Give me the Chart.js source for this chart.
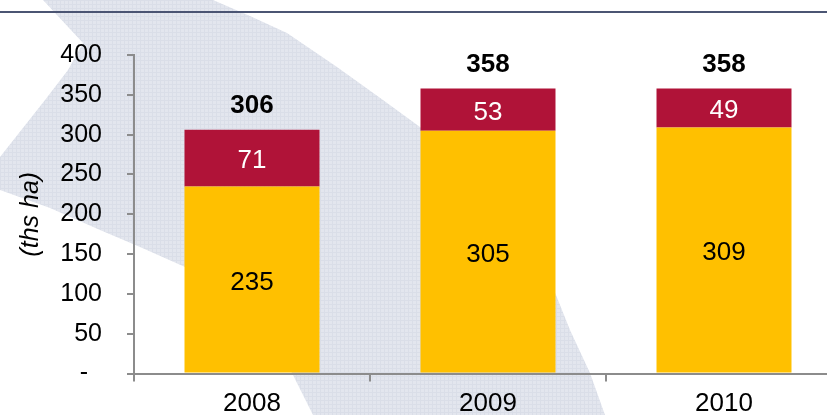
<!DOCTYPE html>
<html>
<head>
<meta charset="utf-8">
<script src="https://cdn.jsdelivr.net/npm/chart.js@4"></script>
<style>
  html, body { margin: 0; padding: 0; overflow: hidden; background: #ffffff; }
  #wrap { position: relative; width: 842px; height: 415px; }
</style>
</head>
<body>
<div id="wrap"><canvas id="chart"></canvas></div>
<script>
// Harvested area by year, thousand hectares
const years = ['2008', '2009', '2010'];
const baseArea = [235, 305, 309];
const topArea = [71, 53, 49];
const totals = [306, 358, 358];
const yMin = 0;
const yMax = 400;
const yStep = 50;

const FONT = '"Liberation Sans", Arial, Helvetica, sans-serif';
const AXIS_GREY = '#8c8c8c';

// light plaid texture for the background swoosh
function makeTexture() {
  const c = document.createElement('canvas');
  c.width = 4; c.height = 4;
  const g = c.getContext('2d');
  g.fillStyle = '#e3e6ee';
  g.fillRect(0, 0, 4, 4);
  g.fillStyle = '#dadee8';
  g.fillRect(0, 0, 4, 1);
  g.fillRect(0, 0, 1, 4);
  return c;
}

const backdrop = {
  id: 'backdrop',
  beforeDraw(chart) {
    const ctx = chart.ctx;
    ctx.save();
    ctx.fillStyle = ctx.createPattern(makeTexture(), 'repeat');
    const outline = [
      [43, 0], [213, 0], [250, 16], [287, 33], [337, 67], [383, 100], [420, 127],
      [460, 165], [495, 205], [527, 245], [552, 285], [570, 330], [590, 373], [605, 415],
      [313, 415], [292, 373], [278, 345], [258, 320], [225, 292], [185, 267],
      [140, 247], [100, 230], [50, 208], [0, 190], [0, 157], [45, 100], [68, 70], [83, 43]
    ];
    ctx.beginPath();
    outline.forEach(([x, y], i) => i ? ctx.lineTo(x, y) : ctx.moveTo(x, y));
    ctx.closePath();
    ctx.fill();
    // header rule
    ctx.fillStyle = '#4b5573';
    ctx.fillRect(0, 11, chart.width, 2);
    ctx.restore();
  }
};

const barLabels = {
  id: 'barLabels',
  afterDatasetsDraw(chart) {
    const ctx = chart.ctx;
    ctx.save();
    ctx.textAlign = 'center';
    ctx.textBaseline = 'middle';
    ctx.font = '26px ' + FONT;
    chart.data.datasets.forEach((ds, di) => {
      const meta = chart.getDatasetMeta(di);
      meta.data.forEach((bar, i) => {
        ctx.fillStyle = ds.labelColor;
        ctx.fillText(String(ds.data[i]), bar.x, (bar.y + bar.base) / 2 + 3);
      });
    });
    const last = chart.getDatasetMeta(chart.data.datasets.length - 1);
    ctx.font = 'bold 26px ' + FONT;
    ctx.fillStyle = '#000000';
    last.data.forEach((bar, i) => {
      const yTop = chart.scales.y.getPixelForValue(totals[i]);
      ctx.fillText(String(totals[i]), bar.x, yTop - 24);
    });
    ctx.restore();
  }
};

new Chart(document.getElementById('chart'), {
  type: 'bar',
  data: {
    labels: years,
    datasets: [
      {
        data: baseArea,
        backgroundColor: '#FFC000',
        labelColor: '#000000',
        barPercentage: 0.572,
        categoryPercentage: 1
      },
      {
        data: topArea,
        backgroundColor: '#B01338',
        labelColor: '#ffffff',
        barPercentage: 0.572,
        categoryPercentage: 1
      }
    ]
  },
  options: {
    responsive: true,
    maintainAspectRatio: false,
    animation: false,
    layout: { padding: { top: 55, left: 0, right: 0, bottom: 0 } },
    plugins: { legend: { display: false }, tooltip: { enabled: false } },
    scales: {
      x: {
        stacked: true,
        offset: true,
        grid: { display: true, offset: true, drawOnChartArea: false, drawTicks: true, tickLength: 8, color: AXIS_GREY, lineWidth: 2 },
        border: { display: true, color: AXIS_GREY, width: 2 },
        ticks: { color: '#000000', font: { size: 26, family: FONT }, padding: 7, maxRotation: 0, autoSkip: false },
        afterFit(s) { s.height = 41.5; }
      },
      y: {
        stacked: true,
        min: yMin,
        max: yMax,
        grid: { drawOnChartArea: false, drawTicks: true, tickLength: 7, color: AXIS_GREY, lineWidth: 2 },
        border: { display: true, color: AXIS_GREY, width: 2 },
        ticks: {
          stepSize: yStep,
          padding: 25,
          color: '#000000',
          font: { size: 25, family: FONT },
          callback: (v) => v === 0 ? '-\u2007' : String(v)
        },
        title: {
          display: true,
          text: '(ths ha)',
          color: '#000000',
          font: { size: 25, style: 'italic', family: FONT },
          padding: { top: 16, bottom: 0 }
        },
        afterFit(s) { s.width = 134; }
      }
    }
  },
  plugins: [backdrop, barLabels]
});
</script>
</body>
</html>
